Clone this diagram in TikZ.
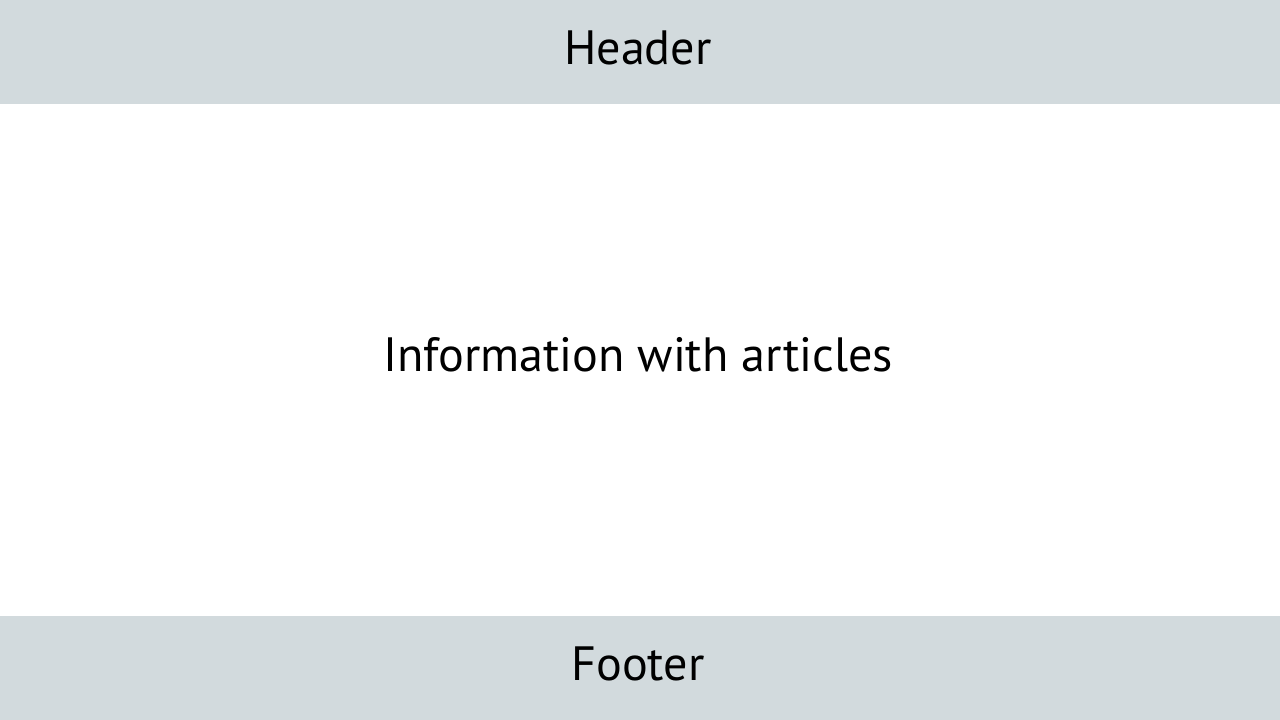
\documentclass[tikz,border=0pt]{standalone}
\usepackage{fontspec}
\setmainfont{PT Sans}
\usetikzlibrary{positioning}
\definecolor{bandgrey}{HTML}{D2DADD}
\tikzset{
    band/.style={rectangle, fill=bandgrey, minimum width=12.8cm, minimum height=1.04cm, inner sep=0pt},
    label/.style={inner sep=0pt, font=\fontsize{13.7}{16}\selectfont}
}
\begin{document}
\begin{tikzpicture}
        \useasboundingbox (0,0) rectangle (12.8,7.2);
        \fill[white] (0,0) rectangle (12.8,7.2);

        % Page bands
        \node (Header) [band] at (6.4, 6.68) {};
        \node (Footer) [band] at (6.4, 0.52) {};
        \node (Header_text) [label] at (6.38, 6.72) {Header};
        \node (Footer_text) [label] at (6.38, 0.56) {Footer};

        % Main area
        \node (Body) [label] at (6.38, 3.65) {Information with articles};
\end{tikzpicture}
\end{document}
